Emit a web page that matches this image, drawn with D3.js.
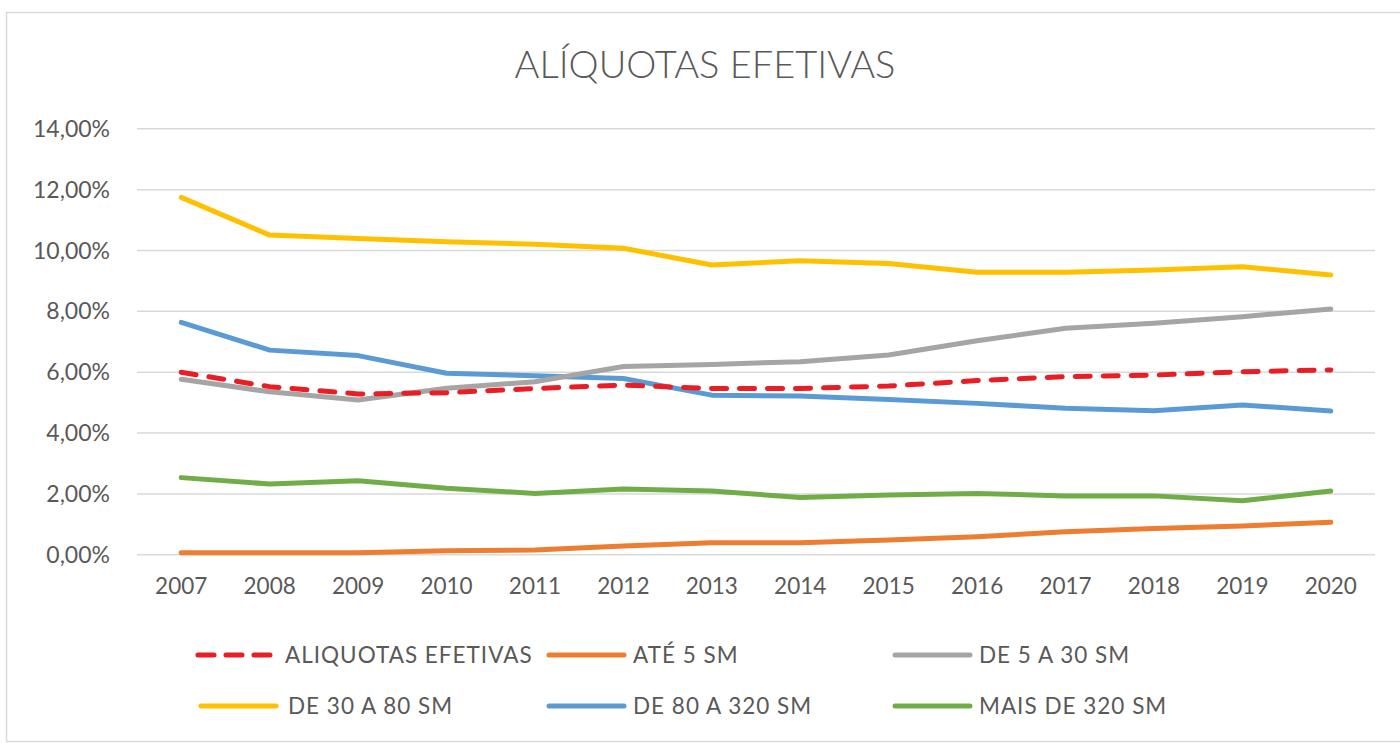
<!DOCTYPE html>
<html><head><meta charset="utf-8">
<script src="https://cdn.jsdelivr.net/npm/d3@7"></script>
<style>
html,body{margin:0;padding:0;background:#fff;}
svg text{font-family:Lato,"Open Sans",sans-serif;fill:#595959;}
</style></head>
<body>
<svg id="c" width="1400" height="743"></svg>
<script>
const years = ["2007","2008","2009","2010","2011","2012","2013","2014","2015","2016","2017","2018","2019","2020"];
const yTicks = [0,2,4,6,8,10,12,14];
const aliquotasEfetivas = [5.98,5.51,5.27,5.31,5.45,5.56,5.45,5.45,5.53,5.71,5.84,5.89,6.00,6.06];
const ate5 = [0.05,0.05,0.05,0.12,0.14,0.27,0.38,0.38,0.47,0.58,0.74,0.85,0.93,1.05];
const de5a30 = [5.75,5.34,5.07,5.46,5.67,6.17,6.24,6.33,6.55,7.02,7.43,7.59,7.81,8.06];
const de30a80 = [11.73,10.49,10.38,10.27,10.19,10.06,9.51,9.65,9.56,9.27,9.27,9.34,9.45,9.18];
const de80a320 = [7.62,6.71,6.53,5.95,5.87,5.78,5.23,5.20,5.09,4.96,4.80,4.72,4.91,4.71];
const mais320 = [2.52,2.31,2.42,2.17,2.00,2.15,2.08,1.87,1.95,2.00,1.92,1.92,1.76,2.08];
const seriesNames = ["ALIQUOTAS EFETIVAS","ATÉ 5 SM","DE 5 A 30 SM","DE 30 A 80 SM","DE 80 A 320 SM","MAIS DE 320 SM"];
const seriesColors = ["#EA1D25","#ED7D31","#A5A5A5","#FFC000","#5B9BD5","#70AD47"];
const series = [aliquotasEfetivas, ate5, de5a30, de30a80, de80a320, mais320];

const svg = d3.select("#c");
svg.append("rect").attr("x",6.5).attr("y",12.5).attr("width",1400).attr("height",729)
  .attr("fill","#fff").attr("stroke","#d9d9d9").attr("stroke-width",1.5);

svg.append("text").attr("x",705).attr("y",78).attr("text-anchor","middle")
  .style("font-size","38px").style("font-weight","300").style("fill","#595959")
  .text("ALÍQUOTAS EFETIVAS");

const x = d3.scaleBand().domain(years).range([137,1375]).padding(0);
const y = d3.scaleLinear().domain([0,14]).range([554.3,128.3]);

const fmt = v => d3.format(".2f")(v).replace(".",",") + "%";

const gy = svg.append("g").attr("transform","translate(137,0)")
  .call(d3.axisLeft(y).tickValues(yTicks).tickSize(-1238).tickFormat(fmt).tickPadding(27));
gy.select(".domain").remove();
gy.selectAll(".tick line").attr("stroke","#d9d9d9").attr("stroke-width",1.5);
gy.selectAll(".tick text").style("font-size","23px").attr("dy","0.35em");

const gx = svg.append("g").attr("transform","translate(0,554.3)")
  .call(d3.axisBottom(x).tickSize(0).tickPadding(24));
gx.select(".domain").remove();
gx.selectAll(".tick text").style("font-size","22.5px");

const line = d3.line().x((d,i)=>x(years[i])+x.bandwidth()/2).y(d=>y(d));
const order = [3,4,2,5,1,0];
order.forEach(k=>{
  const p = svg.append("path").datum(series[k]).attr("d",line)
    .attr("fill","none").attr("stroke",seriesColors[k]).attr("stroke-width",5)
    .attr("stroke-linejoin","round").attr("stroke-linecap","round");
  if(k===0) p.attr("stroke-dasharray","15,13");
});

const legPos = [[195,655],[546,655],[892,655],[198,706],[546,706],[892,706]];
seriesNames.forEach((n,k)=>{
  const [lx,ly] = legPos[k];
  const l = svg.append("line").attr("x1",lx+3).attr("x2",lx+78).attr("y1",ly).attr("y2",ly)
    .attr("stroke",seriesColors[k]).attr("stroke-width",5).attr("stroke-linecap","round");
  if(k===0) l.attr("stroke-dasharray","16,12");
  svg.append("text").attr("x",lx+90 - (k===0||k===3?0:3)).attr("y",ly).attr("dy","0.35em")
    .style("font-size","22.5px").style("letter-spacing","1px").text(n);
});
</script>
</body></html>
